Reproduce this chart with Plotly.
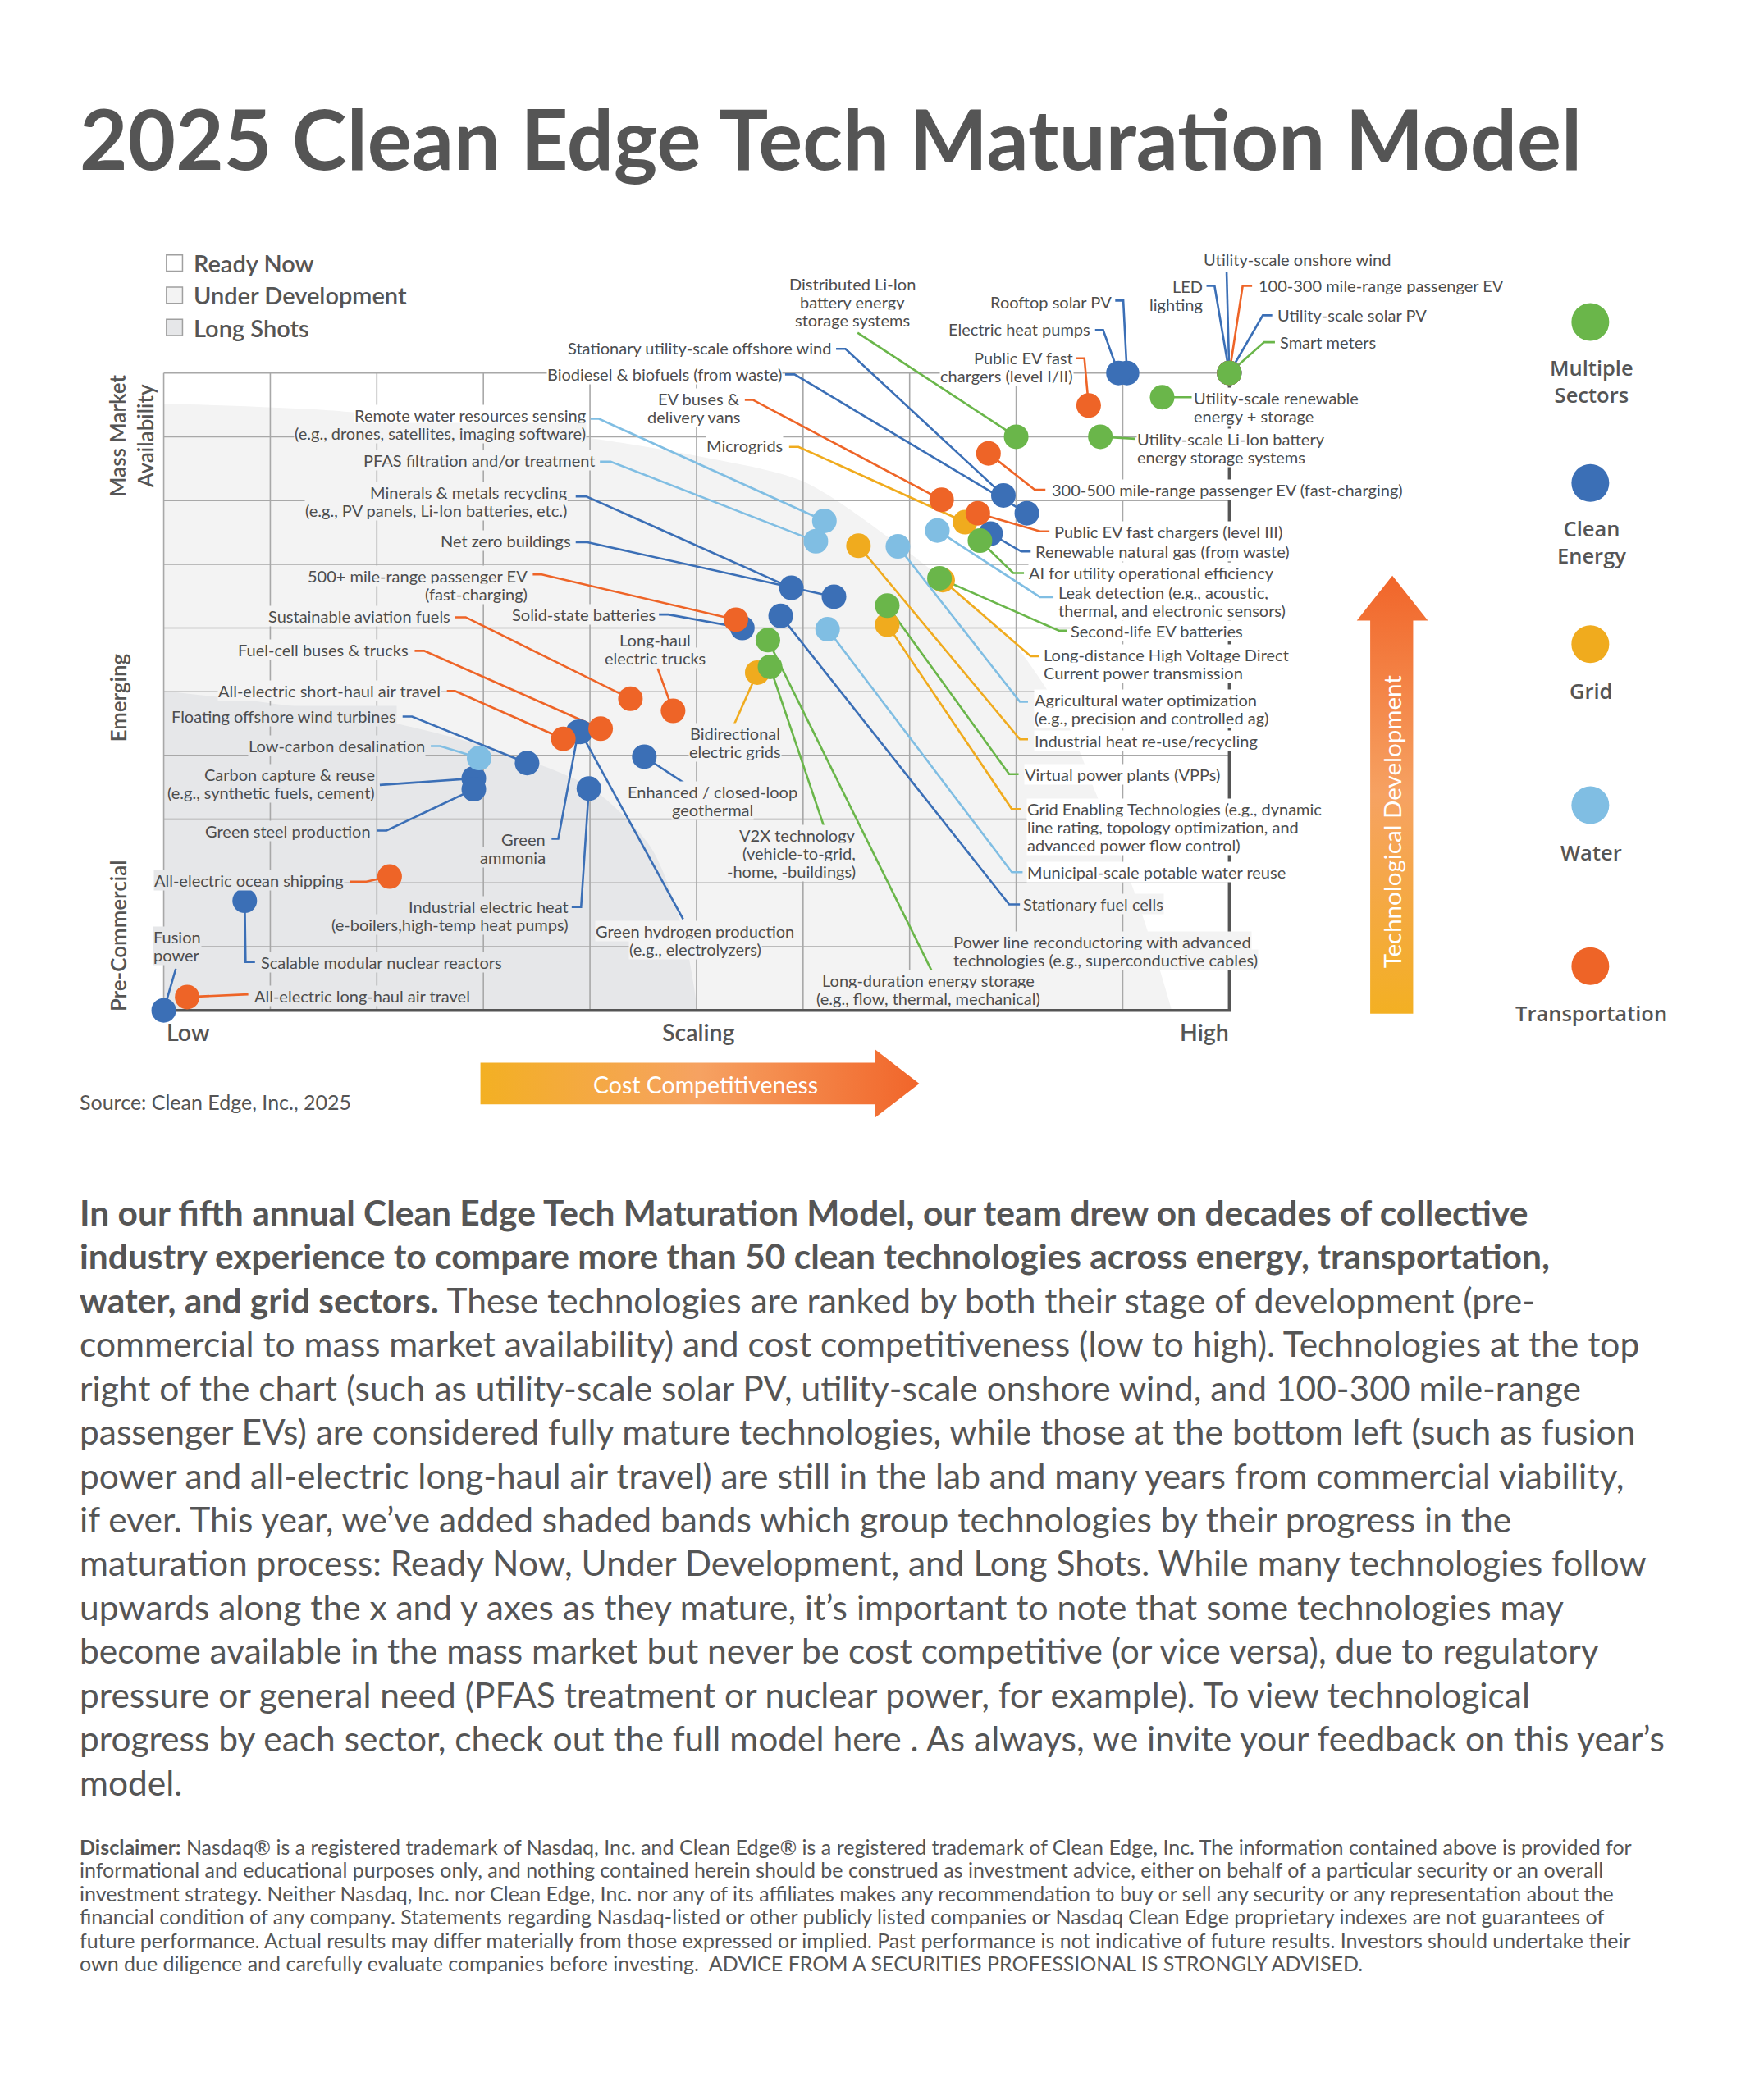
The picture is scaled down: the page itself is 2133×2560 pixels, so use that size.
import numpy as np
import plotly.graph_objects as go

# ---------------------------------------------------------------- data
# x = cost competitiveness (0 = Low ... 10 = High)
# y = technological development (0 = Pre-Commercial ... 10 = Mass Market)
multi_names = ["Smart meters", "Utility-scale renewable energy + storage",
               "Utility-scale Li-Ion battery energy storage systems",
               "Distributed Li-Ion battery energy storage systems",
               "AI for utility operational efficiency", "Second-life EV batteries",
               "Virtual power plants (VPPs)", "Long-duration energy storage", "V2X technology"]
multi_cost = [10.0, 9.37, 8.79, 8.0, 7.66, 7.28, 6.79, 5.67, 5.69]
multi_dev = [10.0, 9.62, 9.0, 9.0, 7.37, 6.78, 6.35, 5.81, 5.39]

clean_names = ["LED lighting", "Utility-scale onshore wind", "Utility-scale solar PV",
               "Rooftop solar PV", "Electric heat pumps", "Stationary utility-scale offshore wind",
               "Biodiesel & biofuels (from waste)", "Renewable natural gas (from waste)",
               "Minerals & metals recycling", "Net zero buildings", "Solid-state batteries",
               "Stationary fuel cells", "Enhanced / closed-loop geothermal",
               "Floating offshore wind turbines", "Green ammonia", "Green hydrogen production",
               "Industrial electric heat", "Carbon capture & reuse", "Green steel production",
               "Scalable modular nuclear reactors", "Fusion power"]
clean_cost = [10.0, 10.0, 10.0, 9.04, 8.96, 7.88, 8.10, 7.76, 5.89, 6.29, 5.43, 5.79,
              4.51, 3.41, 3.89, 3.91, 3.99, 2.91, 2.91, 0.76, 0.0]
clean_dev = [10.0, 10.0, 10.0, 10.0, 10.0, 8.08, 7.80, 7.48, 6.63, 6.49, 6.0, 6.19,
             3.98, 3.88, 4.37, 4.37, 3.48, 3.64, 3.47, 1.72, 0.0]

grid_names = ["Microgrids", "Long-distance HVDC", "Industrial heat re-use/recycling",
              "Grid Enabling Technologies", "Bidirectional electric grids"]
grid_cost = [7.52, 7.31, 6.52, 6.79, 5.57]
grid_dev = [7.66, 6.75, 7.29, 6.05, 5.30]

water_names = ["Remote water resources sensing", "PFAS filtration and/or treatment",
               "Leak detection", "Agricultural water optimization",
               "Municipal-scale potable water reuse", "Low-carbon desalination"]
water_cost = [6.20, 6.12, 7.26, 6.89, 6.23, 2.96]
water_dev = [7.68, 7.36, 7.53, 7.28, 5.98, 3.96]

trans_names = ["100-300 mile-range passenger EV", "Public EV fast chargers (level I/II)",
               "300-500 mile-range passenger EV (fast-charging)", "EV buses & delivery vans",
               "Public EV fast chargers (level III)", "500+ mile-range passenger EV",
               "Sustainable aviation fuels", "Long-haul electric trucks",
               "Fuel-cell buses & trucks", "All-electric short-haul air travel",
               "All-electric ocean shipping", "All-electric long-haul air travel"]
trans_cost = [10.0, 8.68, 7.74, 7.30, 7.64, 5.37, 4.38, 4.78, 4.10, 3.75, 2.12, 0.22]
trans_dev = [10.0, 9.49, 8.74, 8.01, 7.80, 6.13, 4.89, 4.70, 4.42, 4.26, 2.10, 0.21]

# labels with no visible marker
label_only_names = ["Power line reconductoring"]

sector_names = ["Multiple Sectors", "Clean Energy", "Grid", "Water", "Transportation"]
sector_legend_text = ["Multiple<br>Sectors", "Clean<br>Energy", "Grid", "Water", "Transportation"]
band_names = ["Ready Now", "Under Development", "Long Shots"]
x_tick_text = ["Low", "Scaling", "High"]
y_tick_text = ["Mass Market<br>Availability", "Emerging", "Pre-Commercial"]

# ---------------------------------------------------------------- styles / layout helpers
W, H = 2133, 2560
S = W / 1304.0           # reference-layout units -> page px


def mx(px):               # layout x (reference units) -> axis units
    return (px - 122.0) / 79.4


def my(py):               # layout y (reference units) -> axis units
    return (753.0 - py) / 47.5


COL = {"Multiple Sectors": "#6ab64a", "Clean Energy": "#3b6fb6", "Grid": "#f0ab1e",
       "Water": "#80bee3", "Transportation": "#ee6427"}
TXT = "#4d4d4d"
UNDER_DEV = "#f3f3f3"
LONG_SHOT = "#e6e7e9"
FONT = "Lato"
LABEL_SIZE = 20
LABEL_LINE = 13.5        # line spacing of chart labels (reference units)

# shaded band outlines (decorative, axis units)
light_bx = [0, 1.5, 2.9, 4.0, 5.0, 6.0, 6.9, 7.5, 7.96, 8.47, 8.75, 9.1, 9.3, 9.46]
light_by = [9.52, 9.42, 9.2, 8.98, 8.7, 8.3, 7.3, 6.5, 5.8, 4.53, 3.4, 1.9, 0.9, 0.0]
dark_bx = [0, 0.96, 1.99, 3.02, 4.0, 4.57, 4.87, 5.01]
dark_by = [5.01, 4.83, 4.57, 4.14, 3.5, 2.56, 1.27, 0.0]

# label placement: text, anchor x, anchor y (reference units), xanchor, leader waypoints
LABELS = {
    "Utility-scale onshore wind": ("Utility-scale onshore wind", 896, 193, "left", [(914, 203)]),
    "100-300 mile-range passenger EV": ("100-300 mile-range passenger EV", 937, 213, "left", [(933, 213), (926, 213)]),
    "Utility-scale solar PV": ("Utility-scale solar PV", 951, 235, "left", [(948, 235), (941, 235)]),
    "Smart meters": ("Smart meters", 953, 255, "left", [(950, 255), (942, 255)]),
    "LED lighting": ("LED<br>lighting", 897, 220, "right", [(899, 213), (905, 213)]),
    "Rooftop solar PV": ("Rooftop solar PV", 829, 225, "right", [(831, 224), (837, 224)]),
    "Electric heat pumps": ("Electric heat pumps", 813, 245, "right", [(816, 246), (822, 246)]),
    "Public EV fast chargers (level I/II)": ("Public EV fast<br>chargers (level I/II)", 800, 273, "right", [(802, 267), (808, 267)]),
    "Utility-scale renewable energy + storage": ("Utility-scale renewable<br>energy + storage", 889, 303, "left", [(888, 296)]),
    "Utility-scale Li-Ion battery energy storage systems": ("Utility-scale Li-Ion battery<br>energy storage systems", 847, 334, "left", [(846, 327)]),
    "Distributed Li-Ion battery energy storage systems": ("Distributed Li-Ion<br>battery energy<br>storage systems", 635, 225, "center", [(639, 248)]),
    "Stationary utility-scale offshore wind": ("Stationary utility-scale offshore wind", 620, 259, "right", [(623, 260), (630, 260)]),
    "Biodiesel & biofuels (from waste)": ("Biodiesel & biofuels (from waste)", 583, 279, "right", [(585, 279), (592, 279)]),
    "EV buses & delivery vans": ("EV buses &<br>delivery vans", 552, 304, "right", [(555, 298), (561, 298)]),
    "Microgrids": ("Microgrids", 584, 332, "right", [(588, 333), (595, 333)]),
    "300-500 mile-range passenger EV (fast-charging)": ("300-500 mile-range passenger EV (fast-charging)", 783, 365, "left", [(779, 365), (771, 365)]),
    "Public EV fast chargers (level III)": ("Public EV fast chargers (level III)", 785, 396, "left", [(782, 396), (775, 396)]),
    "Renewable natural gas (from waste)": ("Renewable natural gas (from waste)", 771, 411, "left", [(768, 411), (761, 411)]),
    "AI for utility operational efficiency": ("AI for utility operational efficiency", 766, 427, "left", [(763, 427), (755, 427)]),
    "Leak detection": ("Leak detection (e.g., acoustic,<br>thermal, and electronic sensors)", 788, 448, "left", [(785, 445), (775, 445)]),
    "Second-life EV batteries": ("Second-life EV batteries", 797, 470, "left", [(795, 470), (789, 470)]),
    "Long-distance HVDC": ("Long-distance High Voltage Direct<br>Current power transmission", 777, 494.5, "left", [(774, 489), (768, 489)]),
    "Agricultural water optimization": ("Agricultural water optimization<br>(e.g., precision and controlled ag)", 770, 528, "left", [(766, 523), (760, 523)]),
    "Industrial heat re-use/recycling": ("Industrial heat re-use/recycling", 770, 552, "left", [(766, 551), (760, 551)]),
    "Virtual power plants (VPPs)": ("Virtual power plants (VPPs)", 763, 577, "left", [(759, 577), (752, 577)]),
    "Grid Enabling Technologies": ("Grid Enabling Technologies (e.g., dynamic<br>line rating, topology optimization, and<br>advanced power flow control)", 765, 616, "left", [(761, 603), (754, 603)]),
    "Municipal-scale potable water reuse": ("Municipal-scale potable water reuse", 765, 650, "left", [(762, 650), (754, 650)]),
    "Stationary fuel cells": ("Stationary fuel cells", 762, 674, "left", [(760, 674), (752, 674)]),
    "Power line reconductoring": ("Power line reconductoring with advanced<br>technologies (e.g., superconductive cables)", 710, 708.5, "left", []),
    "Long-duration energy storage": ("Long-duration energy storage<br>(e.g., flow, thermal, mechanical)", 692, 737.5, "center", [(694, 723)]),
    "Remote water resources sensing": ("Remote water resources sensing<br>(e.g., drones, satellites, imaging software)", 437, 316, "right", [(440, 312), (446, 312)]),
    "PFAS filtration and/or treatment": ("PFAS filtration and/or treatment", 444, 343, "right", [(447, 344), (455, 344)]),
    "Minerals & metals recycling": ("Minerals & metals recycling<br>(e.g., PV panels, Li-Ion batteries, etc.)", 423, 373.5, "right", [(429, 370), (437, 370)]),
    "Net zero buildings": ("Net zero buildings", 426, 403, "right", [(429, 404), (437, 404)]),
    "500+ mile-range passenger EV": ("500+ mile-range passenger EV<br>(fast-charging)", 394, 436, "right", [(397, 428), (403, 428)]),
    "Solid-state batteries": ("Solid-state batteries", 489, 458, "right", [(491, 458), (498, 458)]),
    "Sustainable aviation fuels": ("Sustainable aviation fuels", 336, 459, "right", [(339, 460), (347, 460)]),
    "Long-haul electric trucks": ("Long-haul<br>electric trucks", 488, 483.5, "center", [(490, 498)]),
    "Fuel-cell buses & trucks": ("Fuel-cell buses & trucks", 305, 484, "right", [(309, 485), (316, 485)]),
    "All-electric short-haul air travel": ("All-electric short-haul air travel", 329, 515, "right", [(333, 515), (339, 515)]),
    "Floating offshore wind turbines": ("Floating offshore wind turbines", 296, 534, "right", [(300, 534), (307, 534)]),
    "Bidirectional electric grids": ("Bidirectional<br>electric grids", 548, 553.5, "center", [(547, 540)]),
    "Low-carbon desalination": ("Low-carbon desalination", 317, 556, "right", [(321, 556), (328, 556)]),
    "Carbon capture & reuse": ("Carbon capture & reuse<br>(e.g., synthetic fuels, cement)", 280, 584, "right", [(283, 585)]),
    "Enhanced / closed-loop geothermal": ("Enhanced / closed-loop<br>geothermal", 531, 596.5, "center", [(512, 585)]),
    "Green steel production": ("Green steel production", 277, 619, "right", [(281, 619), (288, 619)]),
    "Green ammonia": ("Green<br>ammonia", 407, 632, "right", [(411, 625), (416, 625)]),
    "V2X technology": ("V2X technology<br>(vehicle-to-grid,<br>-home, -buildings)", 638, 636, "right", [(614, 616)]),
    "All-electric ocean shipping": ("All-electric ocean shipping", 257, 656, "right", [(261, 657), (273, 657)]),
    "Industrial electric heat": ("Industrial electric heat<br>(e-boilers,high-temp heat pumps)", 424, 682.5, "right", [(426, 676), (433, 676)]),
    "Green hydrogen production": ("Green hydrogen production<br>(e.g., electrolyzers)", 518, 700.5, "center", [(509, 685)]),
    "Scalable modular nuclear reactors": ("Scalable modular nuclear reactors", 194, 717, "left", [(190, 717), (183, 717)]),
    "Fusion power": ("Fusion<br>power", 132, 705, "center", [(131, 722)]),
    "All-electric long-haul air travel": ("All-electric long-haul air travel", 189, 742, "left", [(185, 741)]),
}

PARAGRAPH = [
    "<b>In our fifth annual Clean Edge Tech Maturation Model, our team drew on decades of collective</b>",
    "<b>industry experience to compare more than 50 clean technologies across energy, transportation,</b>",
    "<b>water, and grid sectors.</b> These technologies are ranked by both their stage of development (pre-",
    "commercial to mass market availability) and cost competitiveness (low to high). Technologies at the top",
    "right of the chart (such as utility-scale solar PV, utility-scale onshore wind, and 100-300 mile-range",
    "passenger EVs) are considered fully mature technologies, while those at the bottom left (such as fusion",
    "power and all-electric long-haul air travel) are still in the lab and many years from commercial viability,",
    "if ever. This year, we\u2019ve added shaded bands which group technologies by their progress in the",
    "maturation process: Ready Now, Under Development, and Long Shots. While many technologies follow",
    "upwards along the x and y axes as they mature, it\u2019s important to note that some technologies may",
    "become available in the mass market but never be cost competitive (or vice versa), due to regulatory",
    "pressure or general need (PFAS treatment or nuclear power, for example). To view technological",
    "progress by each sector, check out the full model here . As always, we invite your feedback on this year\u2019s",
    "model.",
]
DISCLAIMER = [
    "<b>Disclaimer:</b> Nasdaq\u00ae is a registered trademark of Nasdaq, Inc. and Clean Edge\u00ae is a registered trademark of Clean Edge, Inc. The information contained above is provided for",
    "informational and educational purposes only, and nothing contained herein should be construed as investment advice, either on behalf of a particular security or an overall",
    "investment strategy. Neither Nasdaq, Inc. nor Clean Edge, Inc. nor any of its affiliates makes any recommendation to buy or sell any security or any representation about the",
    "financial condition of any company. Statements regarding Nasdaq-listed or other publicly listed companies or Nasdaq Clean Edge proprietary indexes are not guarantees of",
    "future performance. Actual results may differ materially from those expressed or implied. Past performance is not indicative of future results. Investors should undertake their",
    "own due diligence and carefully evaluate companies before investing.  ADVICE FROM A SECURITIES PROFESSIONAL IS STRONGLY ADVISED.",
]

# ---------------------------------------------------------------- figure
groups = {
    "Multiple Sectors": (multi_names, multi_cost, multi_dev),
    "Clean Energy": (clean_names, clean_cost, clean_dev),
    "Grid": (grid_names, grid_cost, grid_dev),
    "Water": (water_names, water_cost, water_dev),
    "Transportation": (trans_names, trans_cost, trans_dev),
}
position = {}
for sec, (nm, cx, cy) in groups.items():
    for n, a, b in zip(nm, cx, cy):
        position[n] = (a, b)

fig = go.Figure()

# bands
fig.add_trace(go.Scatter(x=light_bx, y=light_by, mode="lines",
                         line=dict(width=0, shape="spline", smoothing=0.8),
                         fill="tozeroy", fillcolor=UNDER_DEV, hoverinfo="skip", showlegend=False))
fig.add_trace(go.Scatter(x=dark_bx, y=dark_by, mode="lines",
                         line=dict(width=0, shape="spline", smoothing=0.8),
                         fill="tozeroy", fillcolor=LONG_SHOT, hoverinfo="skip", showlegend=False))

# grid
gx, gy = [], []
for i in range(11):
    gx += [i, i, None]
    gy += [0, 10, None]
    gx += [0, 10, None]
    gy += [i, i, None]
fig.add_trace(go.Scatter(x=gx, y=gy, mode="lines", line=dict(color="#a8a8a8", width=1.6),
                         hoverinfo="skip", showlegend=False))
fig.add_trace(go.Scatter(x=[0, 10, 10], y=[0, 0, 10], mode="lines",
                         line=dict(color="#555555", width=3.5), hoverinfo="skip", showlegend=False))

# leader lines
for sec in sector_names:
    lx, ly = [], []
    for n in groups[sec][0]:
        if n not in LABELS:
            continue
        wps = LABELS[n][4]
        if not wps:
            continue
        for (px, py) in wps:
            lx.append(mx(px))
            ly.append(my(py))
        lx.append(position[n][0])
        ly.append(position[n][1])
        lx.append(None)
        ly.append(None)
    fig.add_trace(go.Scatter(x=lx, y=ly, mode="lines", line=dict(color=COL[sec], width=2.6),
                             hoverinfo="skip", showlegend=False))

# markers (draw order controls overlap)
for sec in ["Clean Energy", "Grid", "Water", "Transportation", "Multiple Sectors"]:
    nm, cx, cy = groups[sec]
    fig.add_trace(go.Scatter(x=cx, y=cy, mode="markers", text=nm, name=sec,
                             marker=dict(color=COL[sec], size=30, line=dict(width=0)),
                             hoverinfo="text", showlegend=False))


def band_color(xu, yu):
    if not (0 <= xu <= 10 and 0 <= yu <= 10):
        return "white"
    if xu <= dark_bx[-1] and yu <= np.interp(xu, dark_bx, dark_by):
        return LONG_SHOT
    if xu <= light_bx[-1] and yu <= np.interp(xu, light_bx, light_by):
        return UNDER_DEV
    return "white"


annotations = []
for key, (text, ax, ay, xa, wps) in LABELS.items():
    lines = text.split("<br>")
    n = len(lines)
    for i, t in enumerate(lines):
        yl = ay + (i - (n - 1) / 2.0) * LABEL_LINE
        w = len(t) * 5.9
        cxm = ax + w / 2 if xa == "left" else (ax - w / 2 if xa == "right" else ax)
        bg = band_color(mx(cxm), my(yl))
        annotations.append(dict(x=mx(ax), y=my(yl), xref="x", yref="y", text=t, showarrow=False,
                                xanchor=xa, yanchor="middle", align=xa,
                                font=dict(family=FONT, size=LABEL_SIZE, color=TXT),
                                bgcolor=bg, borderpad=0))

# title
annotations.append(dict(x=mx(58), y=my(103), xref="x", yref="y", showarrow=False,
                        text="<b>2025 Clean Edge Tech Maturation Model</b>", xanchor="left", yanchor="middle",
                        font=dict(family=FONT, size=101, color="#555555")))

# band legend (top left)
band_fill = ["white", UNDER_DEV, LONG_SHOT]
shapes = []
for i, (bn, bc) in enumerate(zip(band_names, band_fill)):
    yc = 196 + 24 * i
    shapes.append(dict(type="rect", xref="x", yref="y", x0=mx(124), x1=mx(136), y0=my(yc - 6), y1=my(yc + 6),
                       fillcolor=bc, line=dict(color="#a0a0a0", width=1.5), layer="above"))
    annotations.append(dict(x=mx(143), y=my(yc), xref="x", yref="y", text=bn, showarrow=False,
                            xanchor="left", yanchor="middle",
                            font=dict(family=FONT, size=29, color="#555555", weight=600)))

# axis category labels
for t, px, xa in zip(x_tick_text, [123, 520, 917], ["left", "center", "right"]):
    annotations.append(dict(x=mx(px), y=my(769), xref="x", yref="y", text=t, showarrow=False,
                            xanchor=xa, yanchor="middle",
                            font=dict(family=FONT, size=28.5, color="#555555", weight=600)))
for t, py in zip(y_tick_text, [325, 520, 697]):
    parts = t.split("<br>")
    xs = [87, 108] if len(parts) == 2 else [88]
    for p, xx in zip(parts, xs):
        annotations.append(dict(x=mx(xx), y=my(py), xref="x", yref="y", text=p, showarrow=False,
                                textangle=-90, xanchor="center", yanchor="middle", align="center",
                                font=dict(family=FONT, size=26, color="#555555", weight=600)))

# sector legend (right)
leg_y = [240, 360, 480, 600, 720]
fig.add_trace(go.Scatter(x=[mx(1185)] * 5, y=[my(v) for v in leg_y], mode="markers",
                         marker=dict(color=[COL[s] for s in sector_names], size=46),
                         hoverinfo="skip", showlegend=False))
for s, t, v in zip(sector_names, sector_legend_text, leg_y):
    two = "<br>" in t
    annotations.append(dict(x=mx(1186), y=my(v + (44 if two else 35)), xref="x", yref="y", text=t,
                            showarrow=False, xanchor="center", yanchor="middle", align="center",
                            font=dict(family="Open Sans", size=25.5, color="#555555", weight=600)))

# gradient arrows
grad = [[0.0, "#f3b023"], [0.5, "#f6a262"], [1.0, "#f1652a"]]
va = [(1021, 755.5), (1021, 462.5), (1011, 462.5), (1037.5, 429), (1064, 462.5), (1053, 462.5), (1053, 755.5), (1021, 755.5)]
fig.add_trace(go.Scatter(x=[mx(p[0]) for p in va], y=[my(p[1]) for p in va], mode="lines", fill="toself",
                         line=dict(width=0), fillgradient=dict(type="vertical", colorscale=grad),
                         hoverinfo="skip", showlegend=False))
ha = [(358, 792), (652, 792), (652, 782), (685, 807.6), (652, 833), (652, 823), (358, 823), (358, 792)]
fig.add_trace(go.Scatter(x=[mx(p[0]) for p in ha], y=[my(p[1]) for p in ha], mode="lines", fill="toself",
                         line=dict(width=0), fillgradient=dict(type="horizontal", colorscale=grad),
                         hoverinfo="skip", showlegend=False))
annotations.append(dict(x=mx(1037), y=my(612), xref="x", yref="y", text="Technological Development",
                        showarrow=False, textangle=-90, xanchor="center", yanchor="middle",
                        font=dict(family=FONT, size=29.5, color="white")))
annotations.append(dict(x=mx(526), y=my(808), xref="x", yref="y", text="Cost Competitiveness",
                        showarrow=False, xanchor="center", yanchor="middle",
                        font=dict(family=FONT, size=28.5, color="white")))

# source
annotations.append(dict(x=mx(58), y=my(821), xref="x", yref="y", text="Source: Clean Edge, Inc., 2025",
                        showarrow=False, xanchor="left", yanchor="middle",
                        font=dict(family=FONT, size=25, color="#555555")))

# paragraph
for i, line in enumerate(PARAGRAPH):
    annotations.append(dict(x=mx(58), y=my(903 + 32.7 * i), xref="x", yref="y", text=line,
                            showarrow=False, xanchor="left", yanchor="middle",
                            font=dict(family=FONT, size=42.5, color="#555555")))
for i, line in enumerate(DISCLAIMER):
    annotations.append(dict(x=mx(58), y=my(1376 + 17.45 * i), xref="x", yref="y", text=line,
                            showarrow=False, xanchor="left", yanchor="middle",
                            font=dict(family=FONT, size=25, color="#555555")))

fig.update_layout(
    width=W, height=H, margin=dict(l=0, r=0, t=0, b=0, pad=0),
    paper_bgcolor="white", plot_bgcolor="white", hovermode=False, showlegend=False,
    xaxis=dict(range=[mx(0), mx(1304)], visible=False, fixedrange=True),
    yaxis=dict(range=[my(H / S), my(0)], visible=False, fixedrange=True),
    annotations=annotations, shapes=shapes,
    font=dict(family=FONT, color=TXT),
)

fig.write_html("out.html", config={"displayModeBar": False},
               post_script="document.body.style.margin='0px';")
